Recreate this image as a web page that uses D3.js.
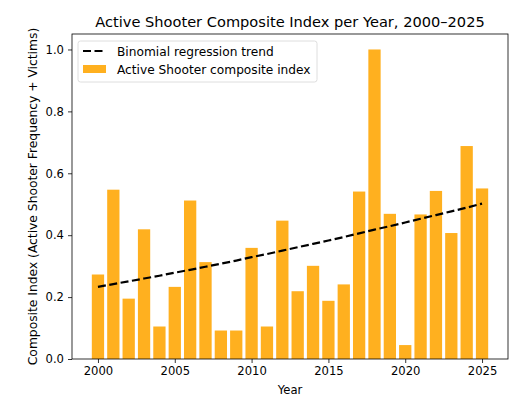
<!DOCTYPE html>
<html>
<head>
<meta charset="utf-8">
<script src="https://cdn.jsdelivr.net/npm/d3@7"></script>
<style>
  body { margin: 0; background: #fff; }
  text { font-family: "DejaVu Sans", sans-serif; fill: #000; }
</style>
</head>
<body>
<div id="vis"></div>
<script>
// data
const years = d3.range(2000, 2026);
const indexValues = [0.273, 0.547, 0.195, 0.419, 0.105, 0.233, 0.512, 0.313, 0.092, 0.092,
  0.359, 0.105, 0.447, 0.219, 0.301, 0.188, 0.241, 0.541, 1.0, 0.469,
  0.045, 0.467, 0.543, 0.407, 0.688, 0.551];
const trendValues = [0.233, 0.242, 0.251, 0.260, 0.269, 0.279, 0.288, 0.298, 0.308, 0.318,
  0.329, 0.339, 0.350, 0.361, 0.372, 0.383, 0.394, 0.406, 0.418, 0.429,
  0.441, 0.453, 0.465, 0.477, 0.489, 0.502];
const xTicks = [2000, 2005, 2010, 2015, 2020, 2025];
const yTicks = [0, 0.2, 0.4, 0.6, 0.8, 1.0];

// margin
const margin = { top: 34, right: 17, bottom: 59, left: 72 };
const width = 525 - margin.left - margin.right;
const height = 418 - margin.top - margin.bottom;

const root = d3.select('#vis')
  .append('svg')
  .attr('width', 525)
  .attr('height', 418);

const svg = root.append('g')
  .attr('transform', `translate(${margin.left},${margin.top})`);

// scales
const xScale = d3.scaleLinear()
  .domain([1998.31, 2026.69])
  .range([0, width]);

const yScale = d3.scaleLinear()
  .domain([0, 1.05])
  .range([height, 0]);

const barW = xScale(2000.8) - xScale(2000);

// bars
svg.selectAll('.bar')
  .data(years.map((y, i) => ({ year: y, v: indexValues[i] })))
  .join('rect')
  .attr('class', 'bar')
  .attr('x', d => xScale(d.year) - barW / 2)
  .attr('width', barW)
  .attr('y', d => yScale(d.v))
  .attr('height', d => yScale(0) - yScale(d.v))
  .attr('fill', '#ffa500')
  .attr('fill-opacity', 0.88);

// trend
const line = d3.line()
  .x((d, i) => xScale(years[i]))
  .y(d => yScale(d));

svg.append('path')
  .datum(trendValues)
  .attr('d', line)
  .attr('fill', 'none')
  .attr('stroke', '#000')
  .attr('stroke-width', 2.2)
  .attr('stroke-dasharray', '8,3.5');

// axes
const xAxis = d3.axisBottom(xScale).tickValues(xTicks).tickFormat(d3.format('d')).tickSizeOuter(0).tickSize(4).tickPadding(4);
const gx = svg.append('g')
  .attr('transform', `translate(0,${height})`)
  .call(xAxis);

const yAxis = d3.axisLeft(yScale).tickValues(yTicks).tickFormat(d3.format('.1f')).tickSizeOuter(0).tickSize(4).tickPadding(4);
const gy = svg.append('g').call(yAxis);

[gx, gy].forEach(g => {
  g.select('.domain').remove();
  g.selectAll('text').style('font-size', '11.6px').style('font-family', '"DejaVu Sans", sans-serif');
  g.selectAll('line').attr('stroke', '#000').attr('stroke-width', 0.8);
});

// frame
svg.append('rect')
  .attr('width', width)
  .attr('height', height)
  .attr('fill', 'none')
  .attr('stroke', '#000')
  .attr('stroke-width', 0.8);

// labels
root.append('text')
  .attr('x', margin.left + width / 2)
  .attr('y', 27)
  .attr('text-anchor', 'middle')
  .style('font-size', '14.6px')
  .text('Active Shooter Composite Index per Year, 2000–2025');

root.append('text')
  .attr('x', margin.left + width / 2)
  .attr('y', 394)
  .attr('text-anchor', 'middle')
  .style('font-size', '11.6px')
  .text('Year');

root.append('text')
  .attr('transform', `translate(37,${margin.top + height / 2}) rotate(-90)`)
  .attr('text-anchor', 'middle')
  .style('font-size', '12.3px')
  .text('Composite Index (Active Shooter Frequency + Victims)');

// legend
const legend = svg.append('g').attr('transform', 'translate(6,7)');
legend.append('rect')
  .attr('width', 239)
  .attr('height', 41)
  .attr('rx', 2.5)
  .attr('fill', '#fff')
  .attr('fill-opacity', 0.8)
  .attr('stroke', '#d6d6d6')
  .attr('stroke-width', 0.8);

legend.append('line')
  .attr('x1', 5).attr('x2', 28)
  .attr('y1', 10).attr('y2', 10)
  .attr('stroke', '#000')
  .attr('stroke-width', 2.2)
  .attr('stroke-dasharray', '8,3.5');

legend.append('rect')
  .attr('x', 5).attr('y', 24)
  .attr('width', 23).attr('height', 8)
  .attr('fill', '#ffa500')
  .attr('fill-opacity', 0.88);

legend.append('text')
  .attr('x', 39).attr('y', 14.5)
  .style('font-size', '12.2px')
  .text('Binomial regression trend');

legend.append('text')
  .attr('x', 39).attr('y', 33)
  .style('font-size', '12.2px')
  .text('Active Shooter composite index');
</script>
</body>
</html>
